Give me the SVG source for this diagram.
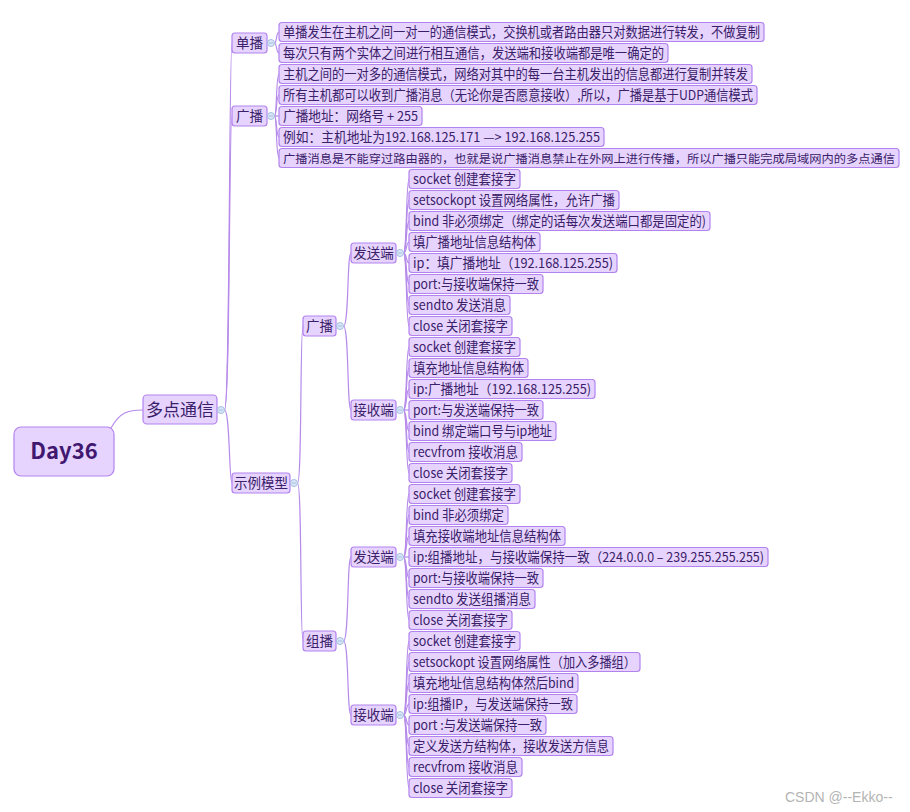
<svg xmlns="http://www.w3.org/2000/svg" width="910" height="812" viewBox="0 0 910 812">
<style>
text{font-family:"Noto Sans CJK SC","Noto Sans",sans-serif;fill:#3a2068;font-size:13.5px}
.b{fill:#e6d4ff;stroke:#b283ef;stroke-width:1.2}
.c path{fill:none;stroke:#b68aea;stroke-width:1.2}
.k circle{fill:#dbe7f7;stroke:#a3bde0;stroke-width:1}
.k path{stroke:#a3bde0;stroke-width:1}
.m{text-anchor:middle}
</style>
<rect width="910" height="812" fill="#fff"/>
<g class="c" id="connectors">
<path d="M111,428 C120,412 128,410 143,410"/>
<path d="M224.5,410 C230,410 229,43 232,43"/>
<path d="M224.5,410 C230,410 229,116 232,116"/>
<path d="M224.5,410 C230,410 229,483 232,483"/>
<path d="M274.5,43 C277,43 276,32 279,32"/>
<path d="M274.5,43 C277,43 276,53 279,53"/>
<path d="M274.5,116 C277,116 276,74 279,74"/>
<path d="M274.5,116 C277,116 276,95 279,95"/>
<path d="M274.5,116 L279,116"/>
<path d="M274.5,116 C277,116 276,137 279,137"/>
<path d="M274.5,116 C277,116 276,158 279,158"/>
<path d="M297.5,483 C302,483 300,326 303,326"/>
<path d="M297.5,483 C302,483 300,641 303,641"/>
<path d="M343.5,326 C349,326 347,253 351,253"/>
<path d="M343.5,326 C349,326 347,410 351,410"/>
<path d="M343.5,641 C349,641 347,557 351,557"/>
<path d="M343.5,641 C349,641 347,715 351,715"/>
<path d="M403.5,253 C407,253 406,179 409,179"/>
<path d="M403.5,253 C407,253 406,200 409,200"/>
<path d="M403.5,253 C407,253 406,221 409,221"/>
<path d="M403.5,253 C407,253 406,242 409,242"/>
<path d="M403.5,253 C407,253 406,263 409,263"/>
<path d="M403.5,253 C407,253 406,284 409,284"/>
<path d="M403.5,253 C407,253 406,305 409,305"/>
<path d="M403.5,253 C407,253 406,326 409,326"/>
<path d="M403.5,410 C407,410 406,347 409,347"/>
<path d="M403.5,410 C407,410 406,368 409,368"/>
<path d="M403.5,410 C407,410 406,389 409,389"/>
<path d="M403.5,410 L409,410"/>
<path d="M403.5,410 C407,410 406,431 409,431"/>
<path d="M403.5,410 C407,410 406,452 409,452"/>
<path d="M403.5,410 C407,410 406,473 409,473"/>
<path d="M403.5,557 C407,557 406,494 409,494"/>
<path d="M403.5,557 C407,557 406,515 409,515"/>
<path d="M403.5,557 C407,557 406,536 409,536"/>
<path d="M403.5,557 L409,557"/>
<path d="M403.5,557 C407,557 406,578 409,578"/>
<path d="M403.5,557 C407,557 406,599 409,599"/>
<path d="M403.5,557 C407,557 406,620 409,620"/>
<path d="M403.5,715 C407,715 406,641 409,641"/>
<path d="M403.5,715 C407,715 406,662 409,662"/>
<path d="M403.5,715 C407,715 406,683 409,683"/>
<path d="M403.5,715 C407,715 406,704 409,704"/>
<path d="M403.5,715 C407,715 406,725 409,725"/>
<path d="M403.5,715 C407,715 406,746 409,746"/>
<path d="M403.5,715 C407,715 406,767 409,767"/>
<path d="M403.5,715 C407,715 406,788 409,788"/>
</g>
<g id="root"><rect class="b" x="14" y="427" width="100" height="49" rx="7" stroke-width="1.5"/><text class="m" x="64" y="459" style="font-size:22px;font-weight:bold;fill:#41176f">Day36</text></g>
<g id="n-multi"><rect class="b" x="143" y="395" width="74" height="29" rx="4"/><text class="m" x="180" y="416" style="font-size:17px">多点通信</text></g>
<g id="n-unicast"><rect class="b" x="232" y="33" width="35" height="20" rx="3"/><text class="m" x="249.5" y="47.5">单播</text></g>
<g id="n-broadcast"><rect class="b" x="232" y="106" width="35" height="20" rx="3"/><text class="m" x="249.5" y="120.5">广播</text></g>
<g id="n-example"><rect class="b" x="232" y="473" width="58" height="20" rx="3"/><text class="m" x="261" y="487.5">示例模型</text></g>
<g id="n-ex-broadcast"><rect class="b" x="303" y="316" width="33" height="20" rx="3"/><text class="m" x="319.5" y="330.5">广播</text></g>
<g id="n-ex-multicast"><rect class="b" x="303" y="631" width="33" height="20" rx="3"/><text class="m" x="319.5" y="645.5">组播</text></g>
<g id="n-b-send"><rect class="b" x="351" y="243" width="45" height="20" rx="3"/><text class="m" x="373.5" y="257.5">发送端</text></g>
<g id="n-b-recv"><rect class="b" x="351" y="400" width="45" height="20" rx="3"/><text class="m" x="373.5" y="414.5">接收端</text></g>
<g id="n-m-send"><rect class="b" x="351" y="547" width="45" height="20" rx="3"/><text class="m" x="373.5" y="561.5">发送端</text></g>
<g id="n-m-recv"><rect class="b" x="351" y="705" width="45" height="20" rx="3"/><text class="m" x="373.5" y="719.5">接收端</text></g>
<g class="k" id="collapse-markers">
<circle cx="221" cy="410" r="3.5"/><path d="M219,410h4"/>
<circle cx="271" cy="43" r="3.5"/><path d="M269,43h4"/>
<circle cx="271" cy="116" r="3.5"/><path d="M269,116h4"/>
<circle cx="294" cy="483" r="3.5"/><path d="M292,483h4"/>
<circle cx="340" cy="326" r="3.5"/><path d="M338,326h4"/>
<circle cx="340" cy="641" r="3.5"/><path d="M338,641h4"/>
<circle cx="400" cy="253" r="3.5"/><path d="M398,253h4"/>
<circle cx="400" cy="410" r="3.5"/><path d="M398,410h4"/>
<circle cx="400" cy="557" r="3.5"/><path d="M398,557h4"/>
<circle cx="400" cy="715" r="3.5"/><path d="M398,715h4"/>
</g>
<g id="u1"><rect class="b" x="279" y="22.5" width="485" height="19" rx="3"/><text x="283" y="37" textLength="477" lengthAdjust="spacingAndGlyphs">单播发生在主机之间一对一的通信模式，交换机或者路由器只对数据进行转发，不做复制</text></g>
<g id="u2"><rect class="b" x="279" y="43.5" width="389" height="19" rx="3"/><text x="283" y="58" textLength="381" lengthAdjust="spacingAndGlyphs">每次只有两个实体之间进行相互通信，发送端和接收端都是唯一确定的</text></g>
<g id="b1"><rect class="b" x="279" y="64.5" width="473" height="19" rx="3"/><text x="283" y="79" textLength="465" lengthAdjust="spacingAndGlyphs">主机之间的一对多的通信模式，网络对其中的每一台主机发出的信息都进行复制并转发</text></g>
<g id="b2"><rect class="b" x="279" y="85.5" width="478" height="19" rx="3"/><text x="283" y="100" textLength="470" lengthAdjust="spacingAndGlyphs">所有主机都可以收到广播消息（无论你是否愿意接收）,所以，广播是基于UDP通信模式</text></g>
<g id="b3"><rect class="b" x="279" y="106.5" width="143" height="19" rx="3"/><text x="283" y="121" textLength="135" lengthAdjust="spacingAndGlyphs">广播地址：网络号 + 255</text></g>
<g id="b4"><rect class="b" x="279" y="127.5" width="325" height="19" rx="3"/><text x="283" y="142" textLength="317" lengthAdjust="spacingAndGlyphs">例如：主机地址为192.168.125.171 —&gt; 192.168.125.255</text></g>
<g id="b5"><rect class="b" x="279" y="148.5" width="620" height="19" rx="3"/><text x="283" y="162.5" style="font-size:11.9px" textLength="612" lengthAdjust="spacingAndGlyphs">广播消息是不能穿过路由器的，也就是说广播消息禁止在外网上进行传播，所以广播只能完成局域网内的多点通信</text></g>
<g id="bs1"><rect class="b" x="409" y="169.5" width="111" height="19" rx="3"/><text x="413" y="184" textLength="103" lengthAdjust="spacingAndGlyphs">socket 创建套接字</text></g>
<g id="bs2"><rect class="b" x="409" y="190.5" width="210" height="19" rx="3"/><text x="413" y="205" textLength="202" lengthAdjust="spacingAndGlyphs">setsockopt 设置网络属性，允许广播</text></g>
<g id="bs3"><rect class="b" x="409" y="211.5" width="301" height="19" rx="3"/><text x="413" y="226" textLength="293" lengthAdjust="spacingAndGlyphs">bind 非必须绑定（绑定的话每次发送端口都是固定的)</text></g>
<g id="bs4"><rect class="b" x="409" y="232.5" width="131" height="19" rx="3"/><text x="413" y="247" textLength="123" lengthAdjust="spacingAndGlyphs">填广播地址信息结构体</text></g>
<g id="bs5"><rect class="b" x="409" y="253.5" width="208" height="19" rx="3"/><text x="413" y="268" textLength="200" lengthAdjust="spacingAndGlyphs">ip：填广播地址（192.168.125.255)</text></g>
<g id="bs6"><rect class="b" x="409" y="274.5" width="134" height="19" rx="3"/><text x="413" y="289" textLength="126" lengthAdjust="spacingAndGlyphs">port:与接收端保持一致</text></g>
<g id="bs7"><rect class="b" x="409" y="295.5" width="101" height="19" rx="3"/><text x="413" y="310" textLength="93" lengthAdjust="spacingAndGlyphs">sendto 发送消息</text></g>
<g id="bs8"><rect class="b" x="409" y="316.5" width="103" height="19" rx="3"/><text x="413" y="331" textLength="95" lengthAdjust="spacingAndGlyphs">close 关闭套接字</text></g>
<g id="br1"><rect class="b" x="409" y="337.5" width="111" height="19" rx="3"/><text x="413" y="352" textLength="103" lengthAdjust="spacingAndGlyphs">socket 创建套接字</text></g>
<g id="br2"><rect class="b" x="409" y="358.5" width="119" height="19" rx="3"/><text x="413" y="373" textLength="111" lengthAdjust="spacingAndGlyphs">填充地址信息结构体</text></g>
<g id="br3"><rect class="b" x="409" y="379.5" width="186" height="19" rx="3"/><text x="413" y="394" textLength="178" lengthAdjust="spacingAndGlyphs">ip:广播地址（192.168.125.255)</text></g>
<g id="br4"><rect class="b" x="409" y="400.5" width="134" height="19" rx="3"/><text x="413" y="415" textLength="126" lengthAdjust="spacingAndGlyphs">port:与发送端保持一致</text></g>
<g id="br5"><rect class="b" x="409" y="421.5" width="147" height="19" rx="3"/><text x="413" y="436" textLength="139" lengthAdjust="spacingAndGlyphs">bind 绑定端口号与ip地址</text></g>
<g id="br6"><rect class="b" x="409" y="442.5" width="113" height="19" rx="3"/><text x="413" y="457" textLength="105" lengthAdjust="spacingAndGlyphs">recvfrom 接收消息</text></g>
<g id="br7"><rect class="b" x="409" y="463.5" width="103" height="19" rx="3"/><text x="413" y="478" textLength="95" lengthAdjust="spacingAndGlyphs">close 关闭套接字</text></g>
<g id="ms1"><rect class="b" x="409" y="484.5" width="111" height="19" rx="3"/><text x="413" y="499" textLength="103" lengthAdjust="spacingAndGlyphs">socket 创建套接字</text></g>
<g id="ms2"><rect class="b" x="409" y="505.5" width="99" height="19" rx="3"/><text x="413" y="520" textLength="91" lengthAdjust="spacingAndGlyphs">bind 非必须绑定</text></g>
<g id="ms3"><rect class="b" x="409" y="526.5" width="156" height="19" rx="3"/><text x="413" y="541" textLength="148" lengthAdjust="spacingAndGlyphs">填充接收端地址信息结构体</text></g>
<g id="ms4"><rect class="b" x="409" y="547.5" width="359" height="19" rx="3"/><text x="413" y="562" textLength="351" lengthAdjust="spacingAndGlyphs">ip:组播地址，与接收端保持一致（224.0.0.0 – 239.255.255.255)</text></g>
<g id="ms5"><rect class="b" x="409" y="568.5" width="134" height="19" rx="3"/><text x="413" y="583" textLength="126" lengthAdjust="spacingAndGlyphs">port:与接收端保持一致</text></g>
<g id="ms6"><rect class="b" x="409" y="589.5" width="126" height="19" rx="3"/><text x="413" y="604" textLength="118" lengthAdjust="spacingAndGlyphs">sendto 发送组播消息</text></g>
<g id="ms7"><rect class="b" x="409" y="610.5" width="103" height="19" rx="3"/><text x="413" y="625" textLength="95" lengthAdjust="spacingAndGlyphs">close 关闭套接字</text></g>
<g id="mr1"><rect class="b" x="409" y="631.5" width="111" height="19" rx="3"/><text x="413" y="646" textLength="103" lengthAdjust="spacingAndGlyphs">socket 创建套接字</text></g>
<g id="mr2"><rect class="b" x="409" y="652.5" width="231" height="19" rx="3"/><text x="413" y="667" textLength="223" lengthAdjust="spacingAndGlyphs">setsockopt 设置网络属性（加入多播组）</text></g>
<g id="mr3"><rect class="b" x="409" y="673.5" width="169" height="19" rx="3"/><text x="413" y="688" textLength="161" lengthAdjust="spacingAndGlyphs">填充地址信息结构体然后bind</text></g>
<g id="mr4"><rect class="b" x="409" y="694.5" width="168" height="19" rx="3"/><text x="413" y="709" textLength="160" lengthAdjust="spacingAndGlyphs">ip:组播IP，与发送端保持一致</text></g>
<g id="mr5"><rect class="b" x="409" y="715.5" width="137" height="19" rx="3"/><text x="413" y="730" textLength="129" lengthAdjust="spacingAndGlyphs">port :与发送端保持一致</text></g>
<g id="mr6"><rect class="b" x="409" y="736.5" width="204" height="19" rx="3"/><text x="413" y="751" textLength="196" lengthAdjust="spacingAndGlyphs">定义发送方结构体，接收发送方信息</text></g>
<g id="mr7"><rect class="b" x="409" y="757.5" width="113" height="19" rx="3"/><text x="413" y="772" textLength="105" lengthAdjust="spacingAndGlyphs">recvfrom 接收消息</text></g>
<g id="mr8"><rect class="b" x="409" y="778.5" width="103" height="19" rx="3"/><text x="413" y="793" textLength="95" lengthAdjust="spacingAndGlyphs">close 关闭套接字</text></g>
<text x="785" y="802" style="font-family:'Liberation Sans',Arial,sans-serif;font-size:14px;fill:#b4b4b4">CSDN @--Ekko--</text>
</svg>
